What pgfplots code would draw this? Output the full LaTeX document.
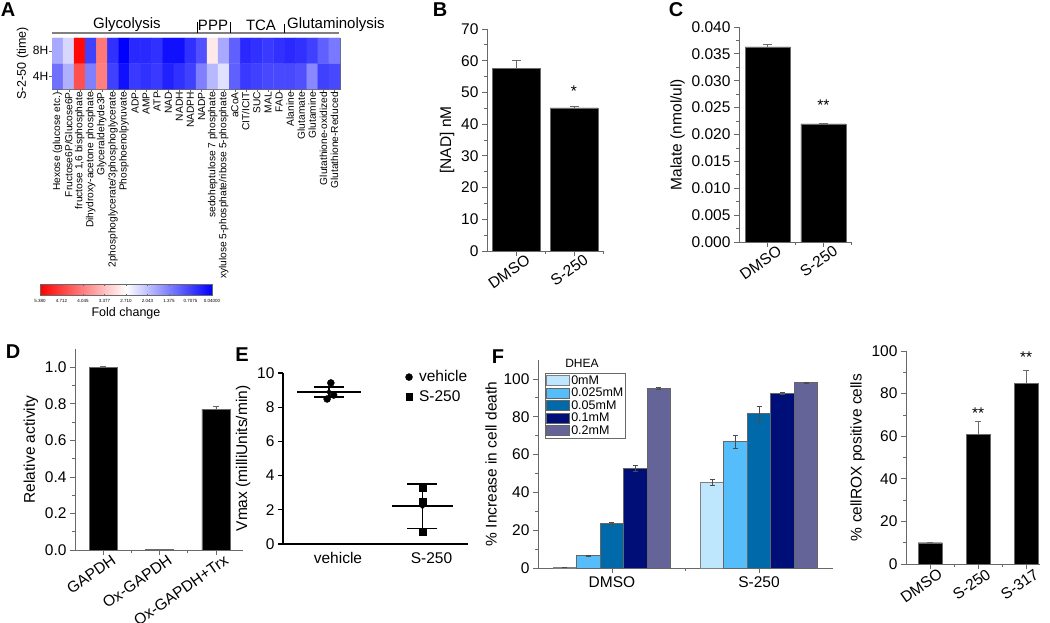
\documentclass[border=0pt]{standalone}
\usepackage{pgfplots}
\usepackage{pgfplotstable}
\pgfplotsset{compat=1.18}
\usepackage{fontspec}
\setmainfont{Liberation Sans}
\setsansfont{Liberation Sans}

\definecolor{axgray}{RGB}{105,105,105}
\definecolor{cA}{RGB}{190,230,252}
\definecolor{cB}{RGB}{85,190,250}
\definecolor{cC}{RGB}{0,105,170}
\definecolor{cD}{RGB}{0,15,120}
\definecolor{cE}{RGB}{100,100,152}

\newcommand{\fs}[1]{\fontsize{#1}{#1}\selectfont}

\pgfplotstableread{
x y c
1 1 1.21
2 1 1.88
3 1 4.55
4 1 1.38
5 1 4.05
6 1 0.71
7 1 0.21
8 1 0.63
9 1 0.54
10 1 0.63
11 1 0.38
12 1 0.54
13 1 0.71
14 1 1.38
15 1 1.97
16 1 2.38
17 1 1.04
18 1 0.63
19 1 0.71
20 1 0.79
21 1 0.79
22 1 0.79
23 1 0.88
24 1 1.46
25 1 0.71
26 1 0.79
1 2 1.80
2 2 2.30
3 2 5.30
4 2 0.71
5 2 4.12
6 2 0.54
7 2 0.04
8 2 0.46
9 2 0.46
10 2 0.54
11 2 0.21
12 2 0.21
13 2 0.54
14 2 0.88
15 2 2.95
16 2 1.80
17 2 1.04
18 2 0.46
19 2 0.54
20 2 0.63
21 2 0.54
22 2 0.46
23 2 0.54
24 2 0.71
25 2 1.04
26 2 1.30
}\heat

\pgfplotsset{
  /pgf/number format/assume math mode=true,
  barpanel/.style={
    scale only axis,
    anchor=south west,
    axis x line*=bottom, axis y line*=left,
    axis line style={axgray, line width=0.8pt},
    tick style={axgray, line width=0.8pt},
    tick align=outside,
    major tick length=5pt, minor tick length=3pt,
    ymin=0,
    tick label style={font=\fs{15.5}},
    label style={font=\fs{15.5}},
    enlargelimits=false,
    clip=false,
  },
  myleg/.style={legend image code/.code={\draw[##1] (0pt,-5pt) rectangle (23pt,5pt);}},
}

\begin{document}
\begin{tikzpicture}[x=1pt,y=1pt]
\path[use as bounding box] (0,0) rectangle (1050,622);

% ---------------- Panel A : heat map ----------------
\begin{axis}[
  at={(52pt,533pt)}, anchor=south west, scale only axis,
  width=288, height=51,
  xmin=0.5, xmax=26.5, ymin=0.5, ymax=2.5,
  enlargelimits=false,
  axis line style={axgray},
  xtick={1,...,26},
  xticklabels={Hexose (glucose etc.), Fructose6P/Glucose6P, {fructose 1,6 bisphosphate}, Dihydroxy-acetone phosphate, Glyceraldehyde3P, 2phosphoglycerate/3phosphoglycerate, Phosphoenolpyruvate, ADP, AMP, ATP, NAD, NADH, NADPH, NADP, sedoheptulose 7 phosphate, xylulose 5-phosphate/ribose 5-phosphate, aCoA, CIT/ICIT, SUC, MAL, FAD, Alanine, Glutamate, Glutamine, Glutathione-oxidized, Glutathione-Reduced},
  x tick label style={rotate=90, anchor=east, font=\fs{10.2}, inner sep=0.5pt},
  ytick={1,2}, yticklabels={4H,8H},
  y tick label style={font=\fs{12}, inner sep=1pt},
  xtick pos=left, ytick pos=left,
  tick align=outside, major tick length=2.5pt, tick style={axgray},
  ylabel={S-2-50 (time)}, ylabel style={font=\fs{12.5}},
  colormap={rwb}{rgb255=(255,0,0) rgb255=(255,255,255) rgb255=(0,0,255)},
  point meta min=-5.38, point meta max=-0.04,
  colorbar horizontal,
  colorbar style={
    at={(parent axis.south west)}, anchor=north west,
    xshift=-12pt, yshift=-187pt,
    scale only axis, width=172, height=11,
    xtick={-5.38,-4.712,-4.045,-3.377,-2.710,-2.043,-1.375,-0.7075,-0.04},
    xticklabels={5.380,4.712,4.045,3.377,2.710,2.043,1.375,0.7075,0.04000},
    x tick label style={font=\fs{4.5}},
    major tick length=1.5pt,
    axis line style={axgray},
    xlabel={Fold change}, xlabel style={font=\fs{12.5}, yshift=2pt},
  },
]
\addplot[matrix plot*, mesh/cols=26, mesh/rows=2, point meta={-\thisrow{c}}] table[x=x, y=y] {\heat};
\end{axis}
\node[font=\fs{15}] at (127,597) {Glycolysis};
\node[font=\fs{15}] at (213,597) {PPP};
\node[font=\fs{15}] at (261,597) {TCA};
\node[font=\fs{15}, anchor=west, inner sep=0pt] at (287,597) {Glutaminolysis};
\draw[gray, line width=1.5pt] (52,589) -- (339,589);
\draw[black, line width=0.7pt] (197,600) -- (197,589);
\draw[black, line width=0.7pt] (230,600) -- (230,589);
\draw[black, line width=0.7pt] (284,598) -- (284,589);

% ---------------- Panel B ----------------
\begin{axis}[barpanel, ybar,
  at={(487pt,371pt)}, width=116, height=222,
  xmin=-0.5, xmax=1.5, ymax=70,
  ytick={0,10,20,30,40,50,60,70}, minor y tick num=1,
  xtick={0,1}, xticklabels={DMSO,S-250}, minor xtick={0.5,1.5},
  x tick label style={rotate=35, anchor=north east, xshift=12pt},
  ylabel={[NAD] nM}, bar width=48pt]
\addplot[fill=black, draw=axgray,
  error bars/.cd, y dir=plus, y explicit,
  error bar style={axgray, line width=0.8pt},
  error mark options={axgray, rotate=90, mark size=4.5pt, line width=0.8pt}]
  coordinates {(0,57.7) +- (0,2.5) (1,45.1) +- (0,0.6)};
\node[font=\fs{15.5}] at (axis cs:1,50.5) {*};
\end{axis}

% ---------------- Panel C ----------------
\begin{axis}[barpanel, ybar,
  at={(739pt,380pt)}, width=113, height=215,
  xmin=-0.51, xmax=1.51, ymax=0.04,
  ytick={0,0.005,0.01,0.015,0.02,0.025,0.03,0.035,0.04}, minor y tick num=1,
  scaled y ticks=false,
  yticklabel style={/pgf/number format/.cd, fixed, fixed zerofill, precision=3},
  xtick={0,1}, xticklabels={DMSO,S-250}, minor xtick={0.5,1.5},
  x tick label style={rotate=35, anchor=north east, xshift=12pt},
  ylabel={Malate (nmol/ul)}, bar width=45pt]
\addplot[fill=black, draw=axgray,
  error bars/.cd, y dir=plus, y explicit,
  error bar style={axgray, line width=0.8pt},
  error mark options={axgray, rotate=90, mark size=4.5pt, line width=0.8pt}]
  coordinates {(0,0.0363) +- (0,0.0005) (1,0.0220) +- (0,0.0001)};
\node[font=\fs{15.5}] at (axis cs:1,0.0255) {**};
\end{axis}

% ---------------- Panel D ----------------
\begin{axis}[barpanel, ybar,
  at={(75pt,72pt)}, width=168, height=201,
  xmin=-0.5, xmax=2.48, ymax=1.1,
  ytick={0,0.2,0.4,0.6,0.8,1.0}, minor y tick num=1,
  yticklabel style={/pgf/number format/.cd, fixed, fixed zerofill, precision=1},
  xtick={0,1,2}, xticklabels={GAPDH,Ox-GAPDH,Ox-GAPDH+Trx}, minor xtick={0.5,1.5},
  x tick label style={rotate=35, anchor=north east, xshift=10pt},
  ylabel={Relative activity}, bar width=28pt]
\addplot[fill=black, draw=axgray,
  error bars/.cd, y dir=plus, y explicit,
  error bar style={axgray, line width=0.8pt},
  error mark options={axgray, rotate=90, mark size=3pt, line width=0.8pt}]
  coordinates {(0,1.0) +- (0,0.006) (1,0.003) +- (0,0.0) (2,0.769) +- (0,0.017)};
\end{axis}

% ---------------- Panel E ----------------
\begin{axis}[scale only axis, anchor=south west,
  at={(283pt,78pt)}, width=185, height=171,
  xmin=0.508, xmax=2.487, ymin=0, ymax=10,
  axis x line*=bottom, axis y line*=left,
  axis line style={black, line width=1.3pt},
  tick style={black, line width=1.3pt}, tick align=outside,
  major tick length=5pt,
  ytick={0,2,4,6,8,10},
  xtick={1,2}, xticklabels={vehicle,S-250},
  x tick style={draw=none},
  x tick label style={xshift=9pt},
  tick label style={font=\fs{15.5}},
  label style={font=\fs{15.5}},
  ylabel={Vmax (milliUnits/min)},
  clip=false,
  legend style={draw=none, fill=none, at={(0.645,1.035)}, anchor=north west,
    font=\fs{15.5}, row sep=4pt, nodes={inner sep=1.5pt},
    /tikz/every odd column/.append style={column sep=5pt}},
  legend cell align=left,
]
\addplot[only marks, mark=*, mark size=3.5pt, black] coordinates {(1.02,9.42) (0.98,8.48) (1.05,8.71)};
\addlegendentry{vehicle}
\addplot[only marks, mark=square*, mark size=3.3pt, black] coordinates {(2.005,3.27) (2.005,2.51) (2.005,0.70)};
\addlegendentry{S-250}
\addplot[black, line width=1.3pt, forget plot] coordinates {(0.66,8.89) (1.34,8.89)};
\addplot[black, line width=1.3pt, forget plot] coordinates {(1.674,2.22) (2.326,2.22)};
\addplot[black, only marks, mark=none, forget plot,
  error bars/.cd, y dir=both, y explicit,
  error bar style={black, line width=1.3pt},
  error mark options={black, rotate=90, mark size=15pt, line width=1.3pt}]
  coordinates {(1,8.89) +- (0,0.29) (2,2.20) +- (0,1.31)};
\end{axis}

% ---------------- Panel F ----------------
\begin{axis}[barpanel, ybar=0pt,
  at={(538pt,54pt)}, width=295, height=208,
  xmin=-0.503, xmax=1.503, ymax=110,
  ytick={0,20,40,60,80,100}, minor y tick num=1,
  xtick={0,1}, xticklabels={DMSO,S-250}, minor xtick={0.5},
  ylabel={\% Increase in cell death}, bar width=23.5pt,
  legend style={at={(0.024,0.9375)}, anchor=north west, draw=axgray, line width=0.8pt,
    font=\fs{12.5}, row sep=0pt, inner sep=1pt,
    nodes={inner sep=1pt, text height=9pt, text depth=1.5pt}},
  legend cell align=left,
]
\addplot[myleg, fill=cA, draw=gray, line width=0.8pt,
  error bars/.cd, y dir=both, y explicit, error bar style={black!70, line width=0.6pt},
  error mark options={black!70, rotate=90, mark size=2.5pt, line width=0.6pt}]
  coordinates {(0,0.5) +- (0,0.1) (1,45.3) +- (0,1.8)};
\addlegendentry{0mM}
\addplot[myleg, fill=cB, draw=black!60, line width=0.8pt,
  error bars/.cd, y dir=both, y explicit, error bar style={black!70, line width=0.6pt},
  error mark options={black!70, rotate=90, mark size=2.5pt, line width=0.6pt}]
  coordinates {(0,6.5) +- (0,0.3) (1,66.7) +- (0,3.3)};
\addlegendentry{0.025mM}
\addplot[myleg, fill=cC, draw=black!60, line width=0.8pt,
  error bars/.cd, y dir=both, y explicit, error bar style={black!70, line width=0.6pt},
  error mark options={black!70, rotate=90, mark size=2.5pt, line width=0.6pt}]
  coordinates {(0,23.6) +- (0,0.4) (1,81.5) +- (0,3.8)};
\addlegendentry{0.05mM}
\addplot[myleg, fill=cD, draw=black!60, line width=0.8pt,
  error bars/.cd, y dir=both, y explicit, error bar style={black!70, line width=0.6pt},
  error mark options={black!70, rotate=90, mark size=2.5pt, line width=0.6pt}]
  coordinates {(0,52.6) +- (0,1.5) (1,92.2) +- (0,0.5)};
\addlegendentry{0.1mM}
\addplot[myleg, fill=cE, draw=black!60, line width=0.8pt,
  error bars/.cd, y dir=both, y explicit, error bar style={black!70, line width=0.6pt},
  error mark options={black!70, rotate=90, mark size=2.5pt, line width=0.6pt}]
  coordinates {(0,94.9) +- (0,0.5) (1,97.9) +- (0,0.3)};
\addlegendentry{0.2mM}
\end{axis}
\node[font=\fs{12}] at (582,259) {DHEA};

% ---------------- Panel G ----------------
\begin{axis}[barpanel, ybar,
  at={(906pt,58pt)}, width=134, height=213,
  xmin=-0.5, xmax=2.29, ymax=100,
  ytick={0,20,40,60,80,100}, minor y tick num=1,
  xtick={0,1,2}, xticklabels={DMSO,S-250,S-317}, minor xtick={0.5,1.5},
  x tick label style={rotate=35, anchor=north east, xshift=10pt},
  ylabel={\% cellROX positive cells}, bar width=24pt]
\addplot[fill=black, draw=axgray,
  error bars/.cd, y dir=plus, y explicit,
  error bar style={axgray, line width=0.8pt},
  error mark options={axgray, rotate=90, mark size=3pt, line width=0.8pt}]
  coordinates {(0,10.0) +- (0,0.3) (1,61.0) +- (0,6.0) (2,84.7) +- (0,6.1)};
\node[font=\fs{15.5}] at (axis cs:1,71) {**};
\node[font=\fs{15.5}] at (axis cs:2,97) {**};
\end{axis}

% ---------------- panel letters ----------------
\node[font=\fs{20}\bfseries] at (8,612) {A};
\node[font=\fs{20}\bfseries] at (440,612) {B};
\node[font=\fs{20}\bfseries] at (676,612) {C};
\node[font=\fs{20}\bfseries] at (13,270) {D};
\node[font=\fs{20}\bfseries] at (242,267) {E};
\node[font=\fs{20}\bfseries] at (498,265) {F};
\end{tikzpicture}
\end{document}
